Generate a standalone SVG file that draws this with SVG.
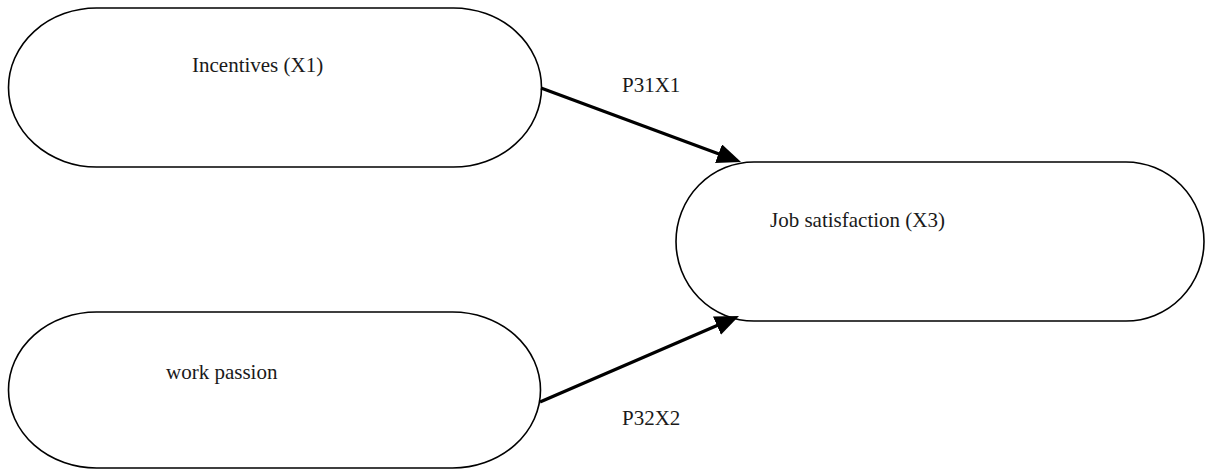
<svg xmlns="http://www.w3.org/2000/svg" width="1205" height="470" viewBox="0 0 1205 470">
  <style>
    .node { fill: #ffffff; stroke: #000000; stroke-width: 1.6; }
    .lbl { font-family: "Liberation Serif", "Times New Roman", serif; font-size: 21px; fill: #1a1a1a; }
    .conn { stroke: #000000; stroke-width: 3.2; fill: none; }
  </style>
  <defs>
    <marker id="arrow" markerUnits="userSpaceOnUse" markerWidth="26" markerHeight="22" refX="2" refY="10" orient="auto">
      <path d="M0,0 L24,10 L0,20 z" fill="#000000"/>
    </marker>
  </defs>
  <rect x="0" y="0" width="1205" height="470" fill="#ffffff"/>
  <g id="node-incentives">
    <rect class="node" x="8.5" y="8" width="533" height="159" rx="88" ry="79.5"/>
    <text class="lbl" x="192" y="72">Incentives (X1)</text>
  </g>
  <g id="node-work-passion">
    <rect class="node" x="8.5" y="312" width="532" height="156" rx="88" ry="78"/>
    <text class="lbl" x="166" y="379">work passion</text>
  </g>
  <g id="node-job-satisfaction">
    <rect class="node" x="676" y="162" width="528" height="159" rx="78" ry="79.5"/>
    <text class="lbl" x="770" y="227">Job satisfaction (X3)</text>
  </g>
  <g id="connectors">
    <line class="conn" x1="541" y1="88" x2="720.4" y2="154.4" marker-end="url(#arrow)"/>
    <line class="conn" x1="540" y1="402" x2="718.8" y2="324.8" marker-end="url(#arrow)"/>
    <text class="lbl" x="622" y="92">P31X1</text>
    <text class="lbl" x="622" y="425">P32X2</text>
  </g>
</svg>
